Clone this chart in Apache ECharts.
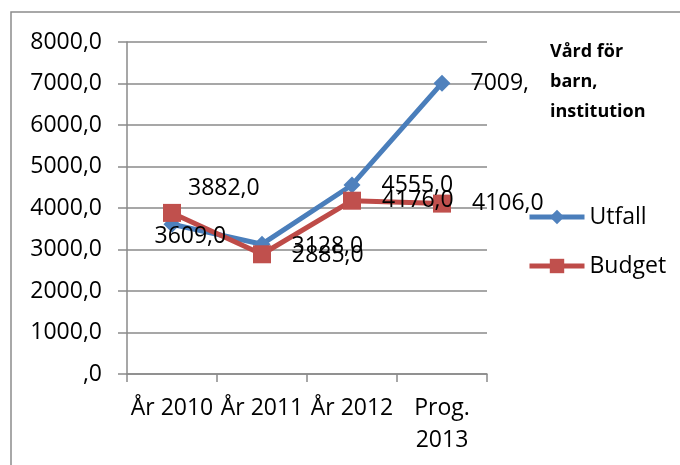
<!DOCTYPE html>
<html>
<head>
<meta charset="utf-8">
<script src="https://cdn.jsdelivr.net/npm/echarts@6/dist/echarts.min.js"></script>
<style>
  html, body { margin: 0; padding: 0; background: #fff; }
  #chart { width: 680px; height: 465px; }
</style>
</head>
<body>
<div id="chart"></div>
<script>
// data
var categories = ['År 2010', 'År 2011', 'År 2012', 'Prog.\n2013']
var utfall = [3609, 3128, 4555, 7009]
var budget = [3882, 2885, 4176, 4106]
var seriesNames = ['Utfall', 'Budget']

// label nudges (px), kept apart from the values
var utfallLabelOffset = [[-47, 12], [0, 2], [0, 0], [-1, 0]]
var budgetLabelOffset = [[-14, -24], [0, 1], [0, 0], [0, 0]]

var fontFamily = '"Open Sans", "Liberation Sans", sans-serif'
var gridColor = '#8a8a8a'

function fmt(v) {
  if (v === 0) return ',0'
  return v.toFixed(1).replace('.', ',')
}

function withOffsets(values, offsets) {
  return values.map(function (v, i) {
    return { value: v, label: { offset: offsets[i] } }
  })
}

var chart = echarts.init(document.getElementById('chart'))
chart.setOption({
  animation: false,
  backgroundColor: '#fff',
  textStyle: { fontFamily: fontFamily },
  title: {
    text: 'Vård för\nbarn,\ninstitution',
    left: 528,
    top: 37,
    padding: [0, 20, 6, 22],
    backgroundColor: '#fff',
    z: 10,
    textStyle: {
      fontFamily: fontFamily,
      fontSize: 18,
      fontWeight: 'bold',
      lineHeight: 30,
      color: '#000'
    }
  },
  legend: {
    data: seriesNames,
    orient: 'vertical',
    left: 527,
    top: 205,
    padding: 0,
    itemWidth: 55,
    itemHeight: 18,
    itemGap: 25,
    itemStyle: { borderWidth: 0 },
    lineStyle: { width: 5 },
    textStyle: {
      fontFamily: fontFamily,
      fontSize: 23,
      lineHeight: 24,
      color: '#000'
    }
  },
  grid: {
    left: 127,
    right: 193,
    top: 42,
    bottom: 91
  },
  xAxis: {
    type: 'category',
    data: categories,
    boundaryGap: true,
    axisLine: { lineStyle: { color: gridColor, width: 1.5 } },
    axisTick: { show: true, length: 8, lineStyle: { color: gridColor, width: 1.5 } },
    axisLabel: {
      color: '#000',
      fontFamily: fontFamily,
      fontSize: 23,
      lineHeight: 32,
      margin: 18,
      interval: 0
    }
  },
  yAxis: {
    type: 'value',
    min: 0,
    max: 8000,
    interval: 1000,
    axisLine: { show: true, lineStyle: { color: gridColor, width: 1.5 } },
    axisTick: { show: true, length: 9, lineStyle: { color: gridColor, width: 1.5 } },
    splitLine: { lineStyle: { color: gridColor, width: 1.5 } },
    axisLabel: {
      color: '#000',
      fontFamily: fontFamily,
      fontSize: 23,
      margin: 25,
      formatter: fmt
    }
  },
  series: [
    {
      name: 'Utfall',
      type: 'line',
      data: withOffsets(utfall, utfallLabelOffset),
      symbol: 'diamond',
      symbolSize: 17,
      lineStyle: { color: '#4A7EBB', width: 5 },
      itemStyle: { color: '#4F81BD' },
      label: {
        show: true,
        position: 'right',
        distance: 21,
        color: '#000',
        fontFamily: fontFamily,
        fontSize: 23,
        formatter: function (p) { return fmt(p.value) }
      }
    },
    {
      name: 'Budget',
      type: 'line',
      data: withOffsets(budget, budgetLabelOffset),
      symbol: 'rect',
      symbolSize: 18,
      lineStyle: { color: '#BE4B48', width: 5 },
      itemStyle: { color: '#C0504D' },
      label: {
        show: true,
        position: 'right',
        distance: 21,
        color: '#000',
        fontFamily: fontFamily,
        fontSize: 23,
        formatter: function (p) { return fmt(p.value) }
      }
    }
  ],
  graphic: [
    {
      type: 'rect',
      z: 0,
      silent: true,
      shape: { x: 11, y: 12, width: 700, height: 500 },
      style: { fill: 'none', stroke: '#8c8c8c', lineWidth: 1.5 }
    }
  ]
})
</script>
</body>
</html>
